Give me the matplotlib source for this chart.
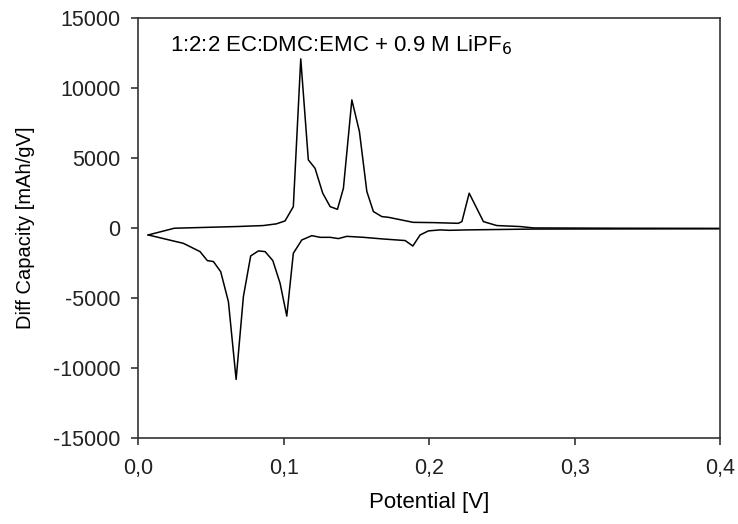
import matplotlib
matplotlib.use("Agg")
import matplotlib.pyplot as plt
from matplotlib.ticker import FuncFormatter

plt.rcParams["font.family"] = ["Liberation Sans", "DejaVu Sans"]
plt.rcParams["axes.unicode_minus"] = False

# charge branch (positive peaks)
charge_v = [0.007, 0.025, 0.068, 0.086, 0.095, 0.101, 0.1067, 0.1118, 0.117, 0.1216,
            0.1269, 0.132, 0.137, 0.1411, 0.1469, 0.1521, 0.1572, 0.1617, 0.1675,
            0.172, 0.189, 0.203, 0.220, 0.2225, 0.2275, 0.2373, 0.2465, 0.2625,
            0.2717, 0.33, 0.40]
charge_c = [-500, -20, 100, 170, 290, 500, 1520, 12070, 4860, 4260,
            2480, 1520, 1330, 2830, 9140, 6880, 2600, 1170, 810,
            760, 400, 380, 330, 450, 2480, 450, 170, 100,
            0, -20, -30]

# discharge branch (negative peaks)
discharge_v = [0.007, 0.0243, 0.0312, 0.0426, 0.0476, 0.0518, 0.0568, 0.0621, 0.0674,
               0.0724, 0.0774, 0.0827, 0.0873, 0.0926, 0.0976, 0.1022, 0.1067, 0.1125,
               0.1194, 0.1251, 0.132, 0.1377, 0.1434, 0.1549, 0.1686, 0.1835, 0.1888,
               0.1938, 0.1995, 0.2076, 0.214, 0.226, 0.2717, 0.40]
discharge_c = [-500, -930, -1100, -1690, -2330, -2400, -3120, -5260, -10810,
               -4900, -2000, -1640, -1690, -2330, -3950, -6290, -1810, -860,
               -550, -670, -670, -760, -600, -670, -790, -900, -1290,
               -500, -210, -140, -170, -140, -80, -60]

x_ticks = [0.0, 0.1, 0.2, 0.3, 0.4]
y_ticks = [-15000, -10000, -5000, 0, 5000, 10000, 15000]

fig = plt.figure(figsize=(7.38, 5.24), dpi=100)
ax = fig.add_axes([0.187, 0.164, 0.789, 0.802])

ax.plot(charge_v, charge_c, color="black", lw=1.1)
ax.plot(discharge_v, discharge_c, color="black", lw=1.1)

ax.set_xlim(0, 0.4)
ax.set_ylim(-15000, 15000)
ax.set_xticks(x_ticks)
ax.set_yticks(y_ticks)
ax.xaxis.set_major_formatter(FuncFormatter(lambda v, p: f"{v:.1f}".replace(".", ",")))
ax.tick_params(direction="out", length=5, width=1.1, labelsize=15.5, colors="#222222")
ax.tick_params(axis="y", pad=7.5)
ax.tick_params(axis="x", pad=9)
for s in ax.spines.values():
    s.set_color("#333333")
    s.set_linewidth(1.2)

ax.set_xlabel("Potential [V]", fontsize=16, labelpad=10)
ax.set_ylabel("Diff Capacity [mAh/gV]", fontsize=14.5, labelpad=13)
ax.text(0.055, 0.935, "1:2:2 EC:DMC:EMC + 0.9 M LiPF$_6$", transform=ax.transAxes,
        fontsize=16, va="center", ha="left")

fig.savefig("out.png", dpi=100)
